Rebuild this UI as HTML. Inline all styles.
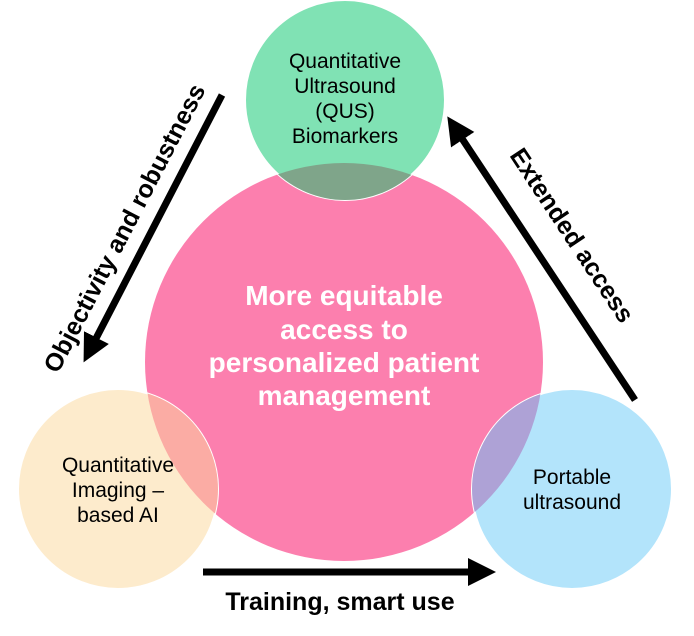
<!DOCTYPE html>
<html><head><style>body{margin:0;background:#fff}</style></head><body>
<svg width="694" height="631" viewBox="0 0 694 631" xmlns="http://www.w3.org/2000/svg" font-family="Liberation Sans, sans-serif">
<defs>
<clipPath id="pk"><circle cx="344" cy="362" r="199"/></clipPath>
<marker id="ah" markerWidth="4" markerHeight="4" refX="2" refY="2" orient="auto" markerUnits="strokeWidth"><path d="M0,0 L4,2 L0,4z" fill="#000"/></marker>
</defs>
<circle cx="344" cy="362" r="199" fill="#fc7fae"/>
<circle cx="345" cy="100" r="100" fill="#80e2b4" stroke="#fff" stroke-width="2"/>
<circle cx="118" cy="489" r="100" fill="#fdebcc" stroke="#fff" stroke-width="2"/>
<circle cx="572" cy="489" r="100" fill="#b3e4fb" stroke="#fff" stroke-width="2"/>
<g clip-path="url(#pk)">
<circle cx="345" cy="100" r="100" fill="#7fa58a"/>
<circle cx="118" cy="489" r="100" fill="#fbaca4"/>
<circle cx="572" cy="489" r="100" fill="#aea2d6"/>
</g>
<g fill="#000" font-size="21" text-anchor="middle">
<text x="345" y="68">Quantitative</text>
<text x="345" y="93">Ultrasound</text>
<text x="345" y="118">(QUS)</text>
<text x="345" y="143">Biomarkers</text>
<text x="118" y="472">Quantitative</text>
<text x="118" y="497">Imaging –</text>
<text x="118" y="522">based AI</text>
<text x="572" y="484">Portable</text>
<text x="572" y="509">ultrasound</text>
</g>
<g fill="#fff" font-size="28" font-weight="bold" text-anchor="middle">
<text x="344" y="305">More equitable</text>
<text x="344" y="339">access to</text>
<text x="344" y="372">personalized patient</text>
<text x="344" y="405">management</text>
</g>
<g stroke="#000" stroke-width="7" fill="none">
<line x1="222" y1="95" x2="90" y2="350" marker-end="url(#ah)"/>
<line x1="635" y1="400" x2="455" y2="128" marker-end="url(#ah)"/>
<line x1="203" y1="572" x2="482" y2="572" marker-end="url(#ah)"/>
</g>
<g fill="#000" font-size="25" font-weight="bold" text-anchor="middle">
<text transform="translate(132,232) rotate(-62.5)">Objectivity and robustness</text>
<text transform="translate(565,240) rotate(56.5)">Extended access</text>
<text x="340" y="610">Training, smart use</text>
</g>
</svg>
</body></html>
